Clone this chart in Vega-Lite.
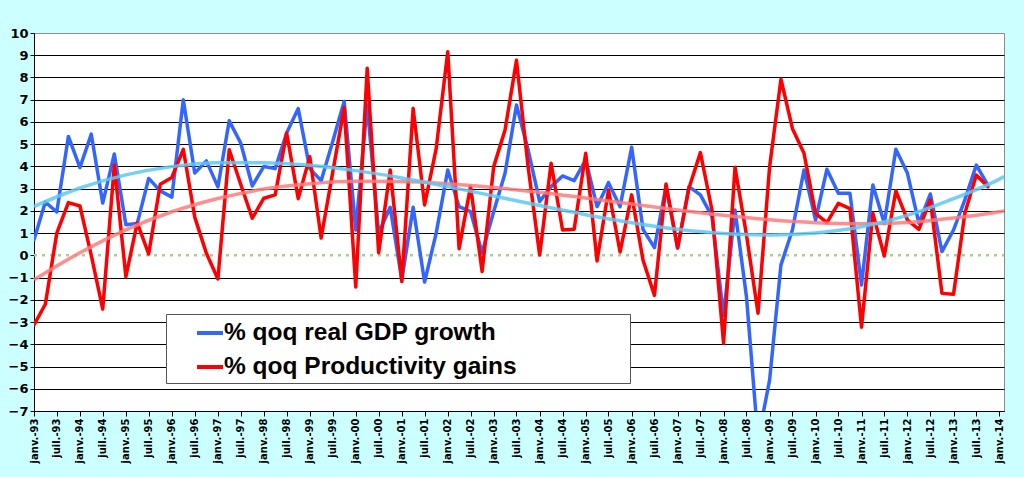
{
  "$schema": "https://vega.github.io/schema/vega-lite/v6.json",
  "width": 970,
  "height": 378,
  "autosize": {"type": "none"},
  "padding": {"left": 34, "top": 33, "right": 20, "bottom": 66},
  "background": "#CCFFFF",
  "config": {
    "view": {"fill": "white", "stroke": "#8C8C8C", "strokeWidth": 1},
    "font": "Liberation Sans",
    "axisX": {
      "title": null,
      "tickCount": {"interval": "month", "step": 6},
      "labelExpr": "(utcFormat(datum.value, '%m') == '01' ? 'janv.-' : 'juil.-') + utcFormat(datum.value, '%y')",
      "labelAngle": -90,
      "labelFont": "DejaVu Sans",
      "labelFontWeight": "bold",
      "labelFontSize": 10,
      "labelColor": "black",
      "labelPadding": 2,
      "labelOverlap": false,
      "labelFlush": false,
      "tickSize": 5,
      "tickColor": "black",
      "domainColor": "black",
      "grid": false
    },
    "axisY": {
      "title": null,
      "labelFont": "DejaVu Sans",
      "labelFontWeight": "bold",
      "labelFontSize": 13,
      "labelColor": "black",
      "labelPadding": 2,
      "labelOverlap": false,
      "tickSize": 4,
      "tickColor": "black",
      "domainColor": "black",
      "grid": true,
      "gridColor": {"condition": {"test": "datum.value === 0 || datum.value === 10", "value": "transparent"}, "value": "black"},
      "gridOpacity": 1,
      "gridWidth": 1
    }
  },
  "datasets": {
    "main": [
      {"d":"1993-01-01","GDP":0.7,"Prod":-3.13},
      {"d":"1993-04-01","GDP":2.4,"Prod":-2.2},
      {"d":"1993-07-01","GDP":1.95,"Prod":1.0},
      {"d":"1993-10-01","GDP":5.35,"Prod":2.37},
      {"d":"1994-01-01","GDP":3.95,"Prod":2.22},
      {"d":"1994-04-01","GDP":5.45,"Prod":0.0},
      {"d":"1994-07-01","GDP":2.35,"Prod":-2.42},
      {"d":"1994-10-01","GDP":4.56,"Prod":4.06},
      {"d":"1995-01-01","GDP":1.38,"Prod":-0.96},
      {"d":"1995-04-01","GDP":1.43,"Prod":1.47},
      {"d":"1995-07-01","GDP":3.46,"Prod":0.06},
      {"d":"1995-10-01","GDP":2.9,"Prod":3.2},
      {"d":"1996-01-01","GDP":2.62,"Prod":3.5},
      {"d":"1996-04-01","GDP":7.0,"Prod":4.77},
      {"d":"1996-07-01","GDP":3.7,"Prod":1.72},
      {"d":"1996-10-01","GDP":4.25,"Prod":0.1},
      {"d":"1997-01-01","GDP":3.08,"Prod":-1.06},
      {"d":"1997-04-01","GDP":6.05,"Prod":4.75},
      {"d":"1997-07-01","GDP":5.05,"Prod":3.2},
      {"d":"1997-10-01","GDP":3.12,"Prod":1.67},
      {"d":"1998-01-01","GDP":4.0,"Prod":2.57},
      {"d":"1998-04-01","GDP":3.9,"Prod":2.72},
      {"d":"1998-07-01","GDP":5.5,"Prod":5.5},
      {"d":"1998-10-01","GDP":6.6,"Prod":2.55},
      {"d":"1999-01-01","GDP":3.9,"Prod":4.44},
      {"d":"1999-04-01","GDP":3.36,"Prod":0.78},
      {"d":"1999-07-01","GDP":5.1,"Prod":3.7},
      {"d":"1999-10-01","GDP":6.92,"Prod":6.65},
      {"d":"2000-01-01","GDP":1.14,"Prod":-1.42},
      {"d":"2000-04-01","GDP":6.76,"Prod":8.41},
      {"d":"2000-07-01","GDP":1.0,"Prod":0.12},
      {"d":"2000-10-01","GDP":2.16,"Prod":3.84},
      {"d":"2001-01-01","GDP":-1.1,"Prod":-1.18},
      {"d":"2001-04-01","GDP":2.16,"Prod":6.61},
      {"d":"2001-07-01","GDP":-1.2,"Prod":2.27},
      {"d":"2001-10-01","GDP":1.0,"Prod":4.8},
      {"d":"2002-01-01","GDP":3.84,"Prod":9.16},
      {"d":"2002-04-01","GDP":2.19,"Prod":0.3},
      {"d":"2002-07-01","GDP":1.97,"Prod":3.1},
      {"d":"2002-10-01","GDP":0.12,"Prod":-0.73},
      {"d":"2003-01-01","GDP":1.97,"Prod":3.99},
      {"d":"2003-04-01","GDP":3.69,"Prod":5.64},
      {"d":"2003-07-01","GDP":6.76,"Prod":8.77},
      {"d":"2003-10-01","GDP":4.75,"Prod":4.0},
      {"d":"2004-01-01","GDP":2.42,"Prod":0.02},
      {"d":"2004-04-01","GDP":3.09,"Prod":4.14},
      {"d":"2004-07-01","GDP":3.57,"Prod":1.14},
      {"d":"2004-10-01","GDP":3.36,"Prod":1.17},
      {"d":"2005-01-01","GDP":4.29,"Prod":4.59},
      {"d":"2005-04-01","GDP":2.19,"Prod":-0.25},
      {"d":"2005-07-01","GDP":3.27,"Prod":2.94},
      {"d":"2005-10-01","GDP":2.19,"Prod":0.15},
      {"d":"2006-01-01","GDP":4.86,"Prod":2.72},
      {"d":"2006-04-01","GDP":1.17,"Prod":-0.21},
      {"d":"2006-07-01","GDP":0.35,"Prod":-1.8},
      {"d":"2006-10-01","GDP":3.1,"Prod":3.21},
      {"d":"2007-01-01","GDP":0.33,"Prod":0.33},
      {"d":"2007-04-01","GDP":3.09,"Prod":3.02},
      {"d":"2007-07-01","GDP":2.72,"Prod":4.62},
      {"d":"2007-10-01","GDP":1.75,"Prod":2.04},
      {"d":"2008-01-01","GDP":-2.7,"Prod":-3.95},
      {"d":"2008-04-01","GDP":2.04,"Prod":3.96},
      {"d":"2008-07-01","GDP":-1.86,"Prod":0.92},
      {"d":"2008-10-01","GDP":-8.3,"Prod":-2.6},
      {"d":"2009-01-01","GDP":-5.6,"Prod":3.99},
      {"d":"2009-04-01","GDP":-0.43,"Prod":7.92},
      {"d":"2009-07-01","GDP":1.14,"Prod":5.71},
      {"d":"2009-10-01","GDP":3.84,"Prod":4.59},
      {"d":"2010-01-01","GDP":1.59,"Prod":1.89},
      {"d":"2010-04-01","GDP":3.87,"Prod":1.47},
      {"d":"2010-07-01","GDP":2.79,"Prod":2.34},
      {"d":"2010-10-01","GDP":2.79,"Prod":2.1},
      {"d":"2011-01-01","GDP":-1.33,"Prod":-3.23},
      {"d":"2011-04-01","GDP":3.16,"Prod":1.89},
      {"d":"2011-07-01","GDP":1.44,"Prod":-0.03},
      {"d":"2011-10-01","GDP":4.77,"Prod":2.9},
      {"d":"2012-01-01","GDP":3.69,"Prod":1.59},
      {"d":"2012-04-01","GDP":1.44,"Prod":1.17},
      {"d":"2012-07-01","GDP":2.76,"Prod":2.49},
      {"d":"2012-10-01","GDP":0.17,"Prod":-1.71},
      {"d":"2013-01-01","GDP":1.14,"Prod":-1.75},
      {"d":"2013-04-01","GDP":2.5,"Prod":1.89},
      {"d":"2013-07-01","GDP":4.06,"Prod":3.61},
      {"d":"2013-10-01","GDP":3.16,"Prod":3.09}
    ],
    "trendP": [
      {"d":"1993-01-01","value":-1.1},
      {"d":"1994-01-01","value":0.12},
      {"d":"1995-01-01","value":1.15},
      {"d":"1996-01-01","value":1.96},
      {"d":"1997-01-01","value":2.56},
      {"d":"1998-01-01","value":2.98},
      {"d":"1999-01-01","value":3.22},
      {"d":"2000-01-01","value":3.33},
      {"d":"2001-01-01","value":3.32},
      {"d":"2002-01-01","value":3.22},
      {"d":"2003-01-01","value":3.05},
      {"d":"2004-01-01","value":2.84},
      {"d":"2005-01-01","value":2.58},
      {"d":"2006-01-01","value":2.31},
      {"d":"2007-01-01","value":2.04},
      {"d":"2008-01-01","value":1.8},
      {"d":"2009-01-01","value":1.6},
      {"d":"2010-01-01","value":1.47},
      {"d":"2011-01-01","value":1.42},
      {"d":"2012-01-01","value":1.48},
      {"d":"2013-01-01","value":1.68},
      {"d":"2014-01-01","value":1.96},
      {"d":"2014-02-06","value":2.0}
    ],
    "trendG": [
      {"d":"1993-01-01","value":2.2},
      {"d":"1994-01-01","value":3.03},
      {"d":"1995-01-01","value":3.62},
      {"d":"1996-01-01","value":3.99},
      {"d":"1997-01-01","value":4.16},
      {"d":"1998-01-01","value":4.17},
      {"d":"1999-01-01","value":4.05},
      {"d":"2000-01-01","value":3.81},
      {"d":"2001-01-01","value":3.48},
      {"d":"2002-01-01","value":3.09},
      {"d":"2003-01-01","value":2.67},
      {"d":"2004-01-01","value":2.24},
      {"d":"2005-01-01","value":1.83},
      {"d":"2006-01-01","value":1.47},
      {"d":"2007-01-01","value":1.17},
      {"d":"2008-01-01","value":0.98},
      {"d":"2009-01-01","value":0.92},
      {"d":"2010-01-01","value":1.01},
      {"d":"2011-01-01","value":1.29},
      {"d":"2012-01-01","value":1.8},
      {"d":"2013-01-01","value":2.55},
      {"d":"2014-01-01","value":3.43},
      {"d":"2014-02-06","value":3.54}
    ],
    "zero": [
      {"d":"1993-01-01","value":0},
      {"d":"2014-02-06","value":0}
    ]
  },
  "encoding": {
    "x": {
      "field": "d", "type": "temporal",
      "scale": {"type": "utc", "domain": [{"year": 1993, "month": 1, "date": 1, "utc": true}, {"year": 2014, "month": 2, "date": 6, "utc": true}]}
    },
    "y": {
      "field": "value", "type": "quantitative",
      "scale": {"domain": [-7, 10], "nice": false, "zero": false},
      "axis": {"values": [-7, -6, -5, -4, -3, -2, -1, 0, 1, 2, 3, 4, 5, 6, 7, 8, 9, 10]}
    }
  },
  "layer": [
    {
      "data": {"name": "zero"},
      "mark": {"type": "line", "color": "#A9D18E", "strokeWidth": 2.5, "strokeDash": [3, 5]}
    },
    {
      "data": {"name": "main"},
      "transform": [{"fold": ["GDP", "Prod"], "as": ["series", "value"]}],
      "mark": {"type": "line", "strokeWidth": 3.5, "clip": true, "strokeJoin": "round", "strokeCap": "round"},
      "encoding": {
        "color": {
          "field": "series", "type": "nominal",
          "scale": {"domain": ["GDP", "Prod"], "range": ["#3366FF", "#FF0000"]},
          "legend": {
            "title": null,
            "orient": "none",
            "legendX": 132,
            "legendY": 281,
            "direction": "vertical",
            "fillColor": "white",
            "strokeColor": "#555555",
            "padding": 4,
            "symbolType": "stroke",
            "symbolSize": 676,
            "symbolStrokeWidth": 4,
            "symbolOffset": 25,
            "labelOffset": -1,
            "rowPadding": 7,
            "labelFont": "Liberation Sans",
            "labelFontSize": 24.5,
            "labelFontWeight": "bold",
            "labelColor": "black",
            "labelLimit": 1000,
            "labelExpr": "(datum.label == 'GDP' ? '% qoq real GDP growth' : '% qoq Productivity gains') + '\u00a0\u00a0\u00a0\u00a0\u00a0\u00a0\u00a0\u00a0\u00a0\u00a0\u00a0\u00a0\u00a0\u00a0\u00a0\u00a0\u200b'"
          }
        }
      }
    },
    {
      "data": {"name": "trendP"},
      "mark": {"type": "line", "color": "#FF7A7A", "strokeWidth": 3.5, "opacity": 0.85, "interpolate": "monotone"}
    },
    {
      "data": {"name": "trendG"},
      "mark": {"type": "line", "color": "#5CC8F5", "strokeWidth": 3.5, "opacity": 0.85, "interpolate": "monotone"}
    }
  ]
}
